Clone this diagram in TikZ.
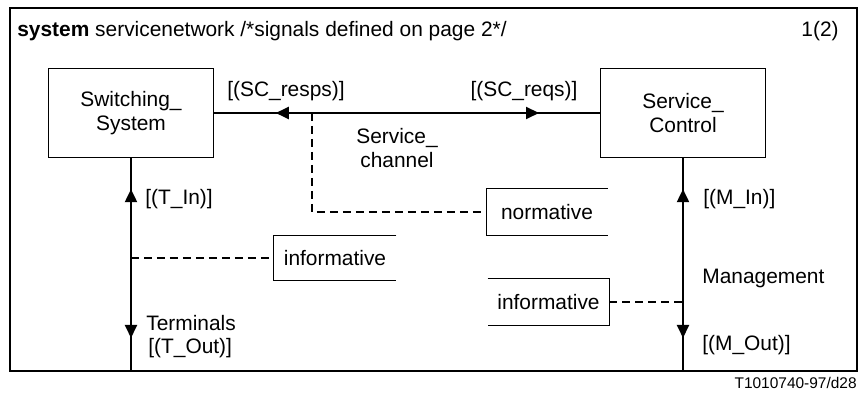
\documentclass[tikz,border=0pt]{standalone}
\usepackage{fontspec}
\setmainfont{Liberation Sans}
\usetikzlibrary{arrows.meta,decorations.markings}

\begin{document}
\begin{tikzpicture}[x=0.02cm,y=-0.02cm,
    font=\fontsize{11.9}{13.6}\selectfont,
    block/.style={draw=black,line width=0.6pt,align=center,minimum width=3.3cm,minimum height=1.78cm},
    comment/.style={align=center,minimum width=2.42cm,minimum height=0.91cm,inner sep=0pt},
    chan/.style={line width=1.1pt},
    note/.style={dashed,line width=0.8pt,dash pattern=on 0.16cm off 0.1cm},
    sig/.style={anchor=west,inner sep=0pt}]
    \useasboundingbox (0,0) rectangle (861,394);
    \draw[line width=0.6pt] (10,8) rectangle (857,371);
    \coordinate (fbot) at (10,371);

    \node[anchor=west,inner sep=0pt] (title) at (17,31) {\textbf{system} servicenetwork /*signals defined on page 2*/};
    \node[inner sep=0pt] (page) at (820,31) {1(2)};
    \node[anchor=east,inner sep=0pt,font=\fontsize{8.8}{10}\selectfont] (fig) at (857,383) {T1010740-97/d28};

    \begin{scope}[every node/.style={block}]
        \node (sw) at (131,113) {Switching\_\\System};
        \node (sc) at (683,113) {Service\_\\Control};
    \end{scope}

    % channels
    \draw[chan,postaction={decorate},decoration={markings,
        mark=at position 0.16 with {\arrowreversed{Triangle[length=0.26cm,width=0.24cm]}},
        mark=at position 0.842 with {\arrow{Triangle[length=0.26cm,width=0.24cm]}}}]
        (sw.east) -- (sc.west);
    \draw[chan,postaction={decorate},decoration={markings,
        mark=at position 0.146 with {\arrowreversed{Triangle[length=0.26cm,width=0.24cm]}},
        mark=at position 0.845 with {\arrow{Triangle[length=0.26cm,width=0.24cm]}}}]
        (sw.south) -- (sw.south |- fbot);
    \draw[chan,postaction={decorate},decoration={markings,
        mark=at position 0.146 with {\arrowreversed{Triangle[length=0.26cm,width=0.24cm]}},
        mark=at position 0.845 with {\arrow{Triangle[length=0.26cm,width=0.24cm]}}}]
        (sc.south) -- (sc.south |- fbot);

    % signal lists and channel names
    \node[inner sep=0pt] (resps) at (286,91) {[(SC\_resps)]};
    \node[inner sep=0pt] (reqs) at (524,91) {[(SC\_reqs)]};
    \node[align=center,inner sep=0pt] (schan) at (397,148) {Service\_\\channel};
    \node[sig] (tin) at (145,199) {[(T\_In)]};
    \node[sig] (tname) at (146,323) {Terminals};
    \node[sig] (tout) at (148,348) {[(T\_Out)]};
    \node[sig] (min) at (703,199) {[(M\_In)]};
    \node[sig] (mname) at (702,278) {Management};
    \node[sig] (mout) at (702,345) {[(M\_Out)]};

    % comment symbols
    \node[comment] (norm) at (547,212) {normative};
    \draw[line width=0.6pt] (norm.north east) -- (norm.north west) -- (norm.south west) -- (norm.south east);
    \node[comment,minimum width=2.44cm,minimum height=0.9cm] (infl) at (335,258) {informative};
    \draw[line width=0.6pt] (infl.north east) -- (infl.north west) -- (infl.south west) -- (infl.south east);
    \node[comment,minimum height=0.92cm] (infr) at (548.5,302) {informative};
    \draw[line width=0.6pt] (infr.north west) -- (infr.north east) -- (infr.south east) -- (infr.south west);

    \coordinate (tap) at (312,113);
    \draw[note] (tap) |- (norm.west);
    \draw[note] (sw.south |- infl.west) -- (infl.west);
    \draw[note] (infr.east) -- (infr.east -| sc.south);
\end{tikzpicture}
\end{document}
